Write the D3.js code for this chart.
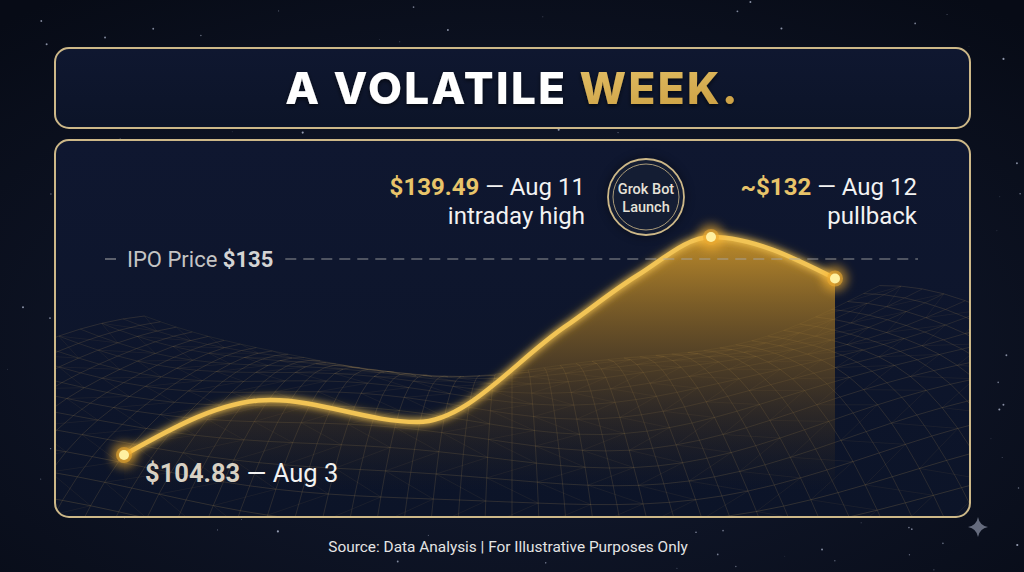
<!DOCTYPE html>
<html>
<head>
<meta charset="utf-8">
<script src="https://cdn.jsdelivr.net/npm/d3@7"></script>
<style>
  html, body { margin: 0; padding: 0; background: #0a0f1e; }
  svg { display: block; }
  text { font-family: Roboto, "Noto Sans", sans-serif; }
</style>
</head>
<body>
<div id="wrapper"></div>
<script>
// price data
const days = [3, 5, 7, 9, 10, 11, 12]
const prices = [104.83, 113.3, 109.9, 124.5, 132.5, 139.49, 132]
const ipoPrice = 135

const callouts = [
    { day: 11, value: "$139.49", rest: " — Aug 11", sub: "intraday high", valueColor: "#e8c46a" },
    { day: 12, value: "~$132", rest: " — Aug 12", sub: "pullback", valueColor: "#e8c46a" },
    { day: 3, value: "$104.83", rest: " — Aug 3", sub: null, valueColor: "#d8d1c4" }
]
const eventLabel = ["Grok Bot", "Launch"]
const titleParts = ["A VOLATILE ", "WEEK."]
const sourceText = "Source: Data Analysis | For Illustrative Purposes Only"

function drawChart() {
    const width = 1024
    const height = 572

    const titleBox = { x: 55, y: 48, w: 915, h: 80 }
    const panel = { x: 55, y: 140, w: 915, h: 377 }

    const svg = d3.select("#wrapper")
        .append("svg")
        .attr("width", width)
        .attr("height", height)

    const defs = svg.append("defs")

    const bg = defs.append("radialGradient").attr("id", "bg")
        .attr("cx", "50%").attr("cy", "60%").attr("r", "75%")
    bg.append("stop").attr("offset", "0%").attr("stop-color", "#141c33")
    bg.append("stop").attr("offset", "100%").attr("stop-color", "#070b16")

    const panelFill = defs.append("linearGradient").attr("id", "panel-fill")
        .attr("x1", 0).attr("y1", 0).attr("x2", 0).attr("y2", 1)
    panelFill.append("stop").attr("offset", "0%").attr("stop-color", "#0f1730")
    panelFill.append("stop").attr("offset", "100%").attr("stop-color", "#0c1428")

    const goldText = defs.append("linearGradient").attr("id", "gold-text")
        .attr("x1", 0).attr("y1", 0).attr("x2", 1).attr("y2", 1)
    goldText.append("stop").attr("offset", "0%").attr("stop-color", "#f2d27c")
    goldText.append("stop").attr("offset", "100%").attr("stop-color", "#c99c3e")

    const areaGrad = defs.append("linearGradient").attr("id", "area-grad")
        .attr("gradientUnits", "userSpaceOnUse")
        .attr("x1", 0).attr("y1", 237).attr("x2", 0).attr("y2", 490)
    areaGrad.append("stop").attr("offset", "0%").attr("stop-color", "#dca02a").attr("stop-opacity", 0.85)
    areaGrad.append("stop").attr("offset", "55%").attr("stop-color", "#8a6220").attr("stop-opacity", 0.45)
    areaGrad.append("stop").attr("offset", "100%").attr("stop-color", "#4a3618").attr("stop-opacity", 0)

    const glow = defs.append("filter").attr("id", "glow")
        .attr("x", "-20%").attr("y", "-20%").attr("width", "140%").attr("height", "140%")
    glow.append("feGaussianBlur").attr("in", "SourceGraphic").attr("stdDeviation", 3).attr("result", "blur")
    const merge = glow.append("feMerge")
    merge.append("feMergeNode").attr("in", "blur")
    merge.append("feMergeNode").attr("in", "SourceGraphic")

    const softBlur = defs.append("filter").attr("id", "soft")
        .attr("x", "-100%").attr("y", "-100%").attr("width", "300%").attr("height", "300%")
    softBlur.append("feGaussianBlur").attr("stdDeviation", 5)

    const shadow = defs.append("filter").attr("id", "shadow")
    shadow.append("feDropShadow").attr("dx", 0).attr("dy", 2).attr("stdDeviation", 2)
        .attr("flood-color", "#000").attr("flood-opacity", 0.6)

    defs.append("clipPath").attr("id", "panel-clip")
        .append("rect")
        .attr("x", panel.x).attr("y", panel.y)
        .attr("width", panel.w).attr("height", panel.h)
        .attr("rx", 14)

    // background + stars
    svg.append("rect").attr("width", width).attr("height", height).attr("fill", "url(#bg)")

    const rand = d3.randomLcg(42)
    const stars = d3.range(260).map(() => [rand() * width, rand() * height, rand()])
    svg.append("g").selectAll("circle")
        .data(stars)
        .join("circle")
        .attr("cx", d => d[0])
        .attr("cy", d => d[1])
        .attr("r", d => 0.4 + d[2] * 0.7)
        .attr("fill", "#c8d0e8")
        .attr("opacity", d => 0.25 + d[2] * 0.5)

    // title panel
    svg.append("rect")
        .attr("x", titleBox.x).attr("y", titleBox.y)
        .attr("width", titleBox.w).attr("height", titleBox.h)
        .attr("rx", 14)
        .attr("fill", "url(#panel-fill)")
        .attr("stroke", "#cdb888")
        .attr("stroke-width", 2)

    const title = svg.append("text")
        .attr("x", titleBox.x + titleBox.w / 2)
        .attr("y", 104)
        .attr("text-anchor", "middle")
        .attr("filter", "url(#shadow)")
        .style("font-family", "Inter, Lato, sans-serif")
        .style("font-weight", 800)
        .style("font-size", "44px")
        .style("letter-spacing", "2.4px")
    title.append("tspan").attr("fill", "#ffffff").text(titleParts[0])
    title.append("tspan").attr("fill", "url(#gold-text)").text(titleParts[1])

    // chart panel
    svg.append("rect")
        .attr("x", panel.x).attr("y", panel.y)
        .attr("width", panel.w).attr("height", panel.h)
        .attr("rx", 14)
        .attr("fill", "url(#panel-fill)")

    // wireframe terrain (decoration)
    const mesh = svg.append("g").attr("clip-path", "url(#panel-clip)")
    const cols = 46
    const rows = 16
    const project = (u, v) => {
        const horizon = 312 + 78 * Math.sin(Math.PI * u) - 26 * u
        const spread = 0.75 + 0.7 * v
        const x = 512 + (u - 0.5) * 980 * spread
        const wave = (1 - 0.6 * v) * (16 * Math.sin(u * 9 + v * 4) + 10 * Math.cos(u * 15 - v * 6))
        const y = horizon + v * v * 260 + wave * (0.4 + v)
        return [x, y]
    }
    const meshLine = d3.line()
    for (let j = 0; j <= rows; j++) {
        const pts = d3.range(cols + 1).map(i => project(i / cols, j / rows))
        mesh.append("path").attr("d", meshLine(pts))
            .attr("fill", "none").attr("stroke", "#d0aa60")
            .attr("stroke-opacity", 0.14 + 0.16 * (j / rows)).attr("stroke-width", 0.7)
    }
    for (let i = 0; i <= cols; i++) {
        const pts = d3.range(rows + 1).map(j => project(i / cols, j / rows))
        mesh.append("path").attr("d", meshLine(pts))
            .attr("fill", "none").attr("stroke", "#d0aa60")
            .attr("stroke-opacity", 0.22).attr("stroke-width", 0.7)
    }
    for (let i = 0; i < cols; i += 2) {
        const pts = d3.range(rows + 1).map(j => project((i + j % 2 * 2) / cols, j / rows))
        mesh.append("path").attr("d", meshLine(pts))
            .attr("fill", "none").attr("stroke", "#d0aa60")
            .attr("stroke-opacity", 0.12).attr("stroke-width", 0.6)
    }

    svg.append("rect")
        .attr("x", panel.x).attr("y", panel.y)
        .attr("width", panel.w).attr("height", panel.h)
        .attr("rx", 14)
        .attr("fill", "none")
        .attr("stroke", "#cdb888")
        .attr("stroke-width", 2)

    // scales
    const dates = days.map(d => new Date(2025, 7, d))
    const data = dates.map((d, i) => ({ date: d, price: prices[i] }))

    const xScale = d3.scaleTime()
        .domain([dates[0], new Date(2025, 7, 11), dates[dates.length - 1]])
        .range([124, 711, 835])

    const yScale = d3.scaleLinear()
        .domain([d3.min(prices), ipoPrice, d3.max(prices)])
        .range([455, 259, 237])

    const bounds = svg.append("g").attr("clip-path", "url(#panel-clip)")

    const area = d3.area()
        .x(d => xScale(d.date))
        .y0(panel.y + panel.h)
        .y1(d => yScale(d.price))
        .curve(d3.curveMonotoneX)

    bounds.append("path")
        .attr("d", area(data))
        .attr("fill", "url(#area-grad)")

    // IPO dashed reference line
    const ipoY = yScale(ipoPrice)
    const ipoLabel = svg.append("text")
        .attr("x", 127)
        .attr("y", ipoY + 8)
        .style("font-size", "22px")
        .attr("fill", "#c4c4c4")
    ipoLabel.append("tspan").text("IPO Price ")
    ipoLabel.append("tspan").style("font-weight", 700).attr("fill", "#d4d4d4").text(`$${ipoPrice}`)
    const ipoLabelEnd = 127 + ipoLabel.node().getComputedTextLength()

    const dashSegments = [[105, 120], [ipoLabelEnd + 12, 918]]
    svg.append("g").selectAll("line")
        .data(dashSegments)
        .join("line")
        .attr("x1", d => d[0]).attr("x2", d => d[1])
        .attr("y1", ipoY).attr("y2", ipoY)
        .attr("stroke", "#a8a8a8")
        .attr("stroke-width", 1.2)
        .attr("stroke-dasharray", "11,7")
        .attr("opacity", 0.85)

    // price line
    const line = d3.line()
        .x(d => xScale(d.date))
        .y(d => yScale(d.price))
        .curve(d3.curveMonotoneX)

    bounds.append("path")
        .attr("d", line(data))
        .attr("fill", "none")
        .attr("stroke", "#f0b83a")
        .attr("stroke-width", 8)
        .attr("stroke-opacity", 0.4)
        .attr("filter", "url(#soft)")

    bounds.append("path")
        .attr("d", line(data))
        .attr("fill", "none")
        .attr("stroke", "#f2c455")
        .attr("stroke-width", 4.5)
        .attr("stroke-linecap", "round")
        .attr("filter", "url(#glow)")

    // marker dots
    const marked = data.filter(d => callouts.some(c => c.day === d.date.getDate()))
    const dots = svg.append("g").selectAll("g")
        .data(marked)
        .join("g")
        .attr("transform", d => `translate(${xScale(d.date)},${yScale(d.price)})`)
    dots.append("circle").attr("r", 13).attr("fill", "#ffb830").attr("opacity", 0.55).attr("filter", "url(#soft)")
    dots.append("circle").attr("r", 8).attr("fill", "#e9a830").attr("opacity", 0.6)
    dots.append("circle").attr("r", 5).attr("fill", "#fff0a0")

    // callout text
    const callText = (x, y, anchor, size, c) => {
        const t = svg.append("text")
            .attr("x", x).attr("y", y)
            .attr("text-anchor", anchor)
            .style("font-size", `${size}px`)
            .attr("fill", "#f2f2f2")
        t.append("tspan").style("font-weight", 700).attr("fill", c.valueColor).text(c.value)
        t.append("tspan").text(c.rest)
        if (c.sub) {
            svg.append("text")
                .attr("x", x).attr("y", y + 29)
                .attr("text-anchor", anchor)
                .style("font-size", `${size}px`)
                .attr("fill", "#f2f2f2")
                .text(c.sub)
        }
    }
    callText(585, 195, "end", 24, callouts[0])
    callText(917, 195, "end", 24, callouts[1])
    callText(145, 482, "start", 25.5, callouts[2])

    // event badge
    const badge = svg.append("g").attr("transform", "translate(646,197)")
    badge.append("circle").attr("r", 40).attr("fill", "#000").attr("opacity", 0.35).attr("filter", "url(#soft)")
    badge.append("circle").attr("r", 38).attr("fill", "#141d33").attr("stroke", "#cdb888").attr("stroke-width", 1.8)
    badge.append("circle").attr("r", 33).attr("fill", "none").attr("stroke", "#cdb888").attr("stroke-width", 1).attr("opacity", 0.8)
    badge.selectAll("text.badge")
        .data(eventLabel)
        .join("text")
        .attr("class", "badge")
        .attr("text-anchor", "middle")
        .attr("y", (d, i) => -3 + i * 18)
        .style("font-size", "14.5px")
        .style("font-weight", 500)
        .attr("fill", "#e6e2d8")
        .text(d => d)

    // footer
    svg.append("text")
        .attr("x", 508)
        .attr("y", 552)
        .attr("text-anchor", "middle")
        .style("font-size", "15.4px")
        .attr("fill", "#e4e4e4")
        .text(sourceText)

    // sparkle
    const s = 10
    svg.append("path")
        .attr("transform", "translate(978,527)")
        .attr("d", `M0,${-s} Q1.5,-1.5 ${s},0 Q1.5,1.5 0,${s} Q-1.5,1.5 ${-s},0 Q-1.5,-1.5 0,${-s}Z`)
        .attr("fill", "#8c93a6")
        .attr("opacity", 0.7)
}

drawChart()
</script>
</body>
</html>
